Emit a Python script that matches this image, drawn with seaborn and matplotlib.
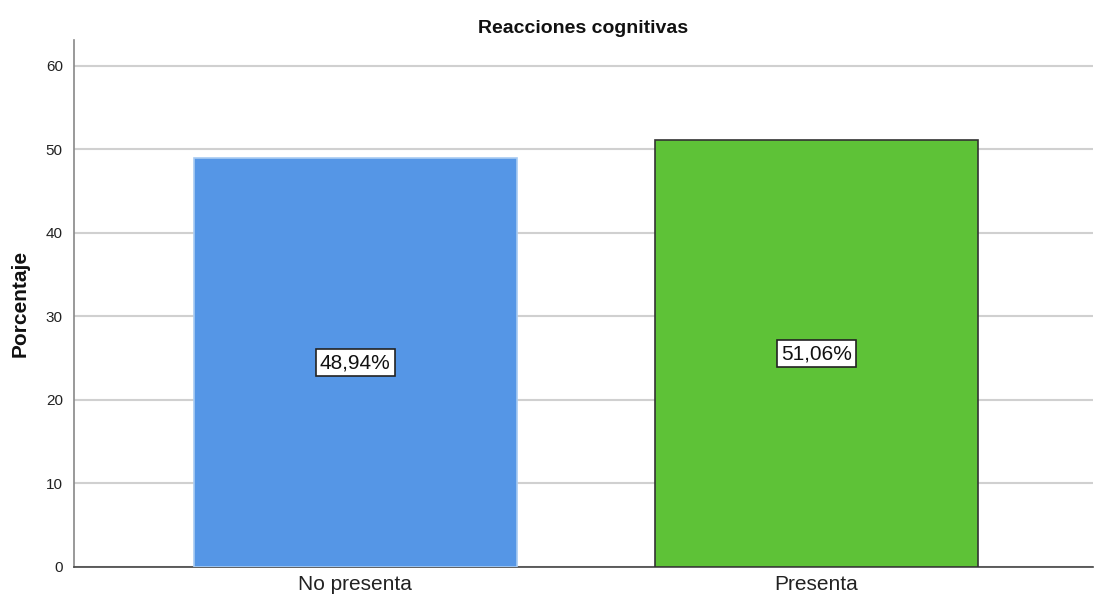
import matplotlib
matplotlib.use("Agg")
import matplotlib.pyplot as plt
import seaborn as sns
import pandas as pd

categories = ["No presenta", "Presenta"]
values = [48.94, 51.06]
labels = ["48,94%", "51,06%"]
colors = ["#5596E6", "#5EC237"]
edges = ["#A8CBF2", "#333333"]

sns.set_theme(style="white")
plt.rcParams['font.family'] = ['Liberation Sans', 'DejaVu Sans']

fig = plt.figure(figsize=(10.94, 6.04), dpi=100)
ax = fig.add_axes([0.0676, 0.0613, 0.9315, 0.8727])

df = pd.DataFrame({"cat": categories, "val": values})
sns.barplot(data=df, x="cat", y="val", hue="cat", palette=colors, legend=False,
            saturation=1, width=0.7, ax=ax, zorder=3)
for patch, ec in zip(ax.patches, edges):
    patch.set_edgecolor(ec)
    patch.set_linewidth(1.2)

for i, (v, t) in enumerate(zip(values, labels)):
    ax.text(i, v / 2, t, ha="center", va="center", fontsize=15, color="#111111", zorder=5,
            bbox=dict(boxstyle="square,pad=0.2", facecolor="white", edgecolor="#222222", linewidth=1.2))

ax.set_ylim(0, 63.1)
ax.set_xlim(-0.61, 1.6)
ax.set_yticks([0, 10, 20, 30, 40, 50, 60])
ax.yaxis.grid(True, color="#D0D0D0", linewidth=1.5, zorder=0)
ax.set_axisbelow(True)
for s in ["top", "right"]:
    ax.spines[s].set_visible(False)
ax.spines["left"].set_color("#888888")
ax.spines["left"].set_linewidth(1.2)
ax.spines["bottom"].set_color("#444444")
ax.spines["bottom"].set_linewidth(1.2)
ax.tick_params(axis="y", length=0, labelsize=11, pad=8, labelcolor="#222222")
ax.tick_params(axis="x", length=0, labelsize=15, pad=6, labelcolor="#222222")
ax.set_xlabel("")
ax.set_ylabel("Porcentaje", fontsize=15, fontweight="bold", labelpad=12, color="#111111")
ax.set_title("Reacciones cognitivas", fontsize=14, fontweight="bold", pad=5, color="#111111")

fig.savefig("out.png", dpi=100)
